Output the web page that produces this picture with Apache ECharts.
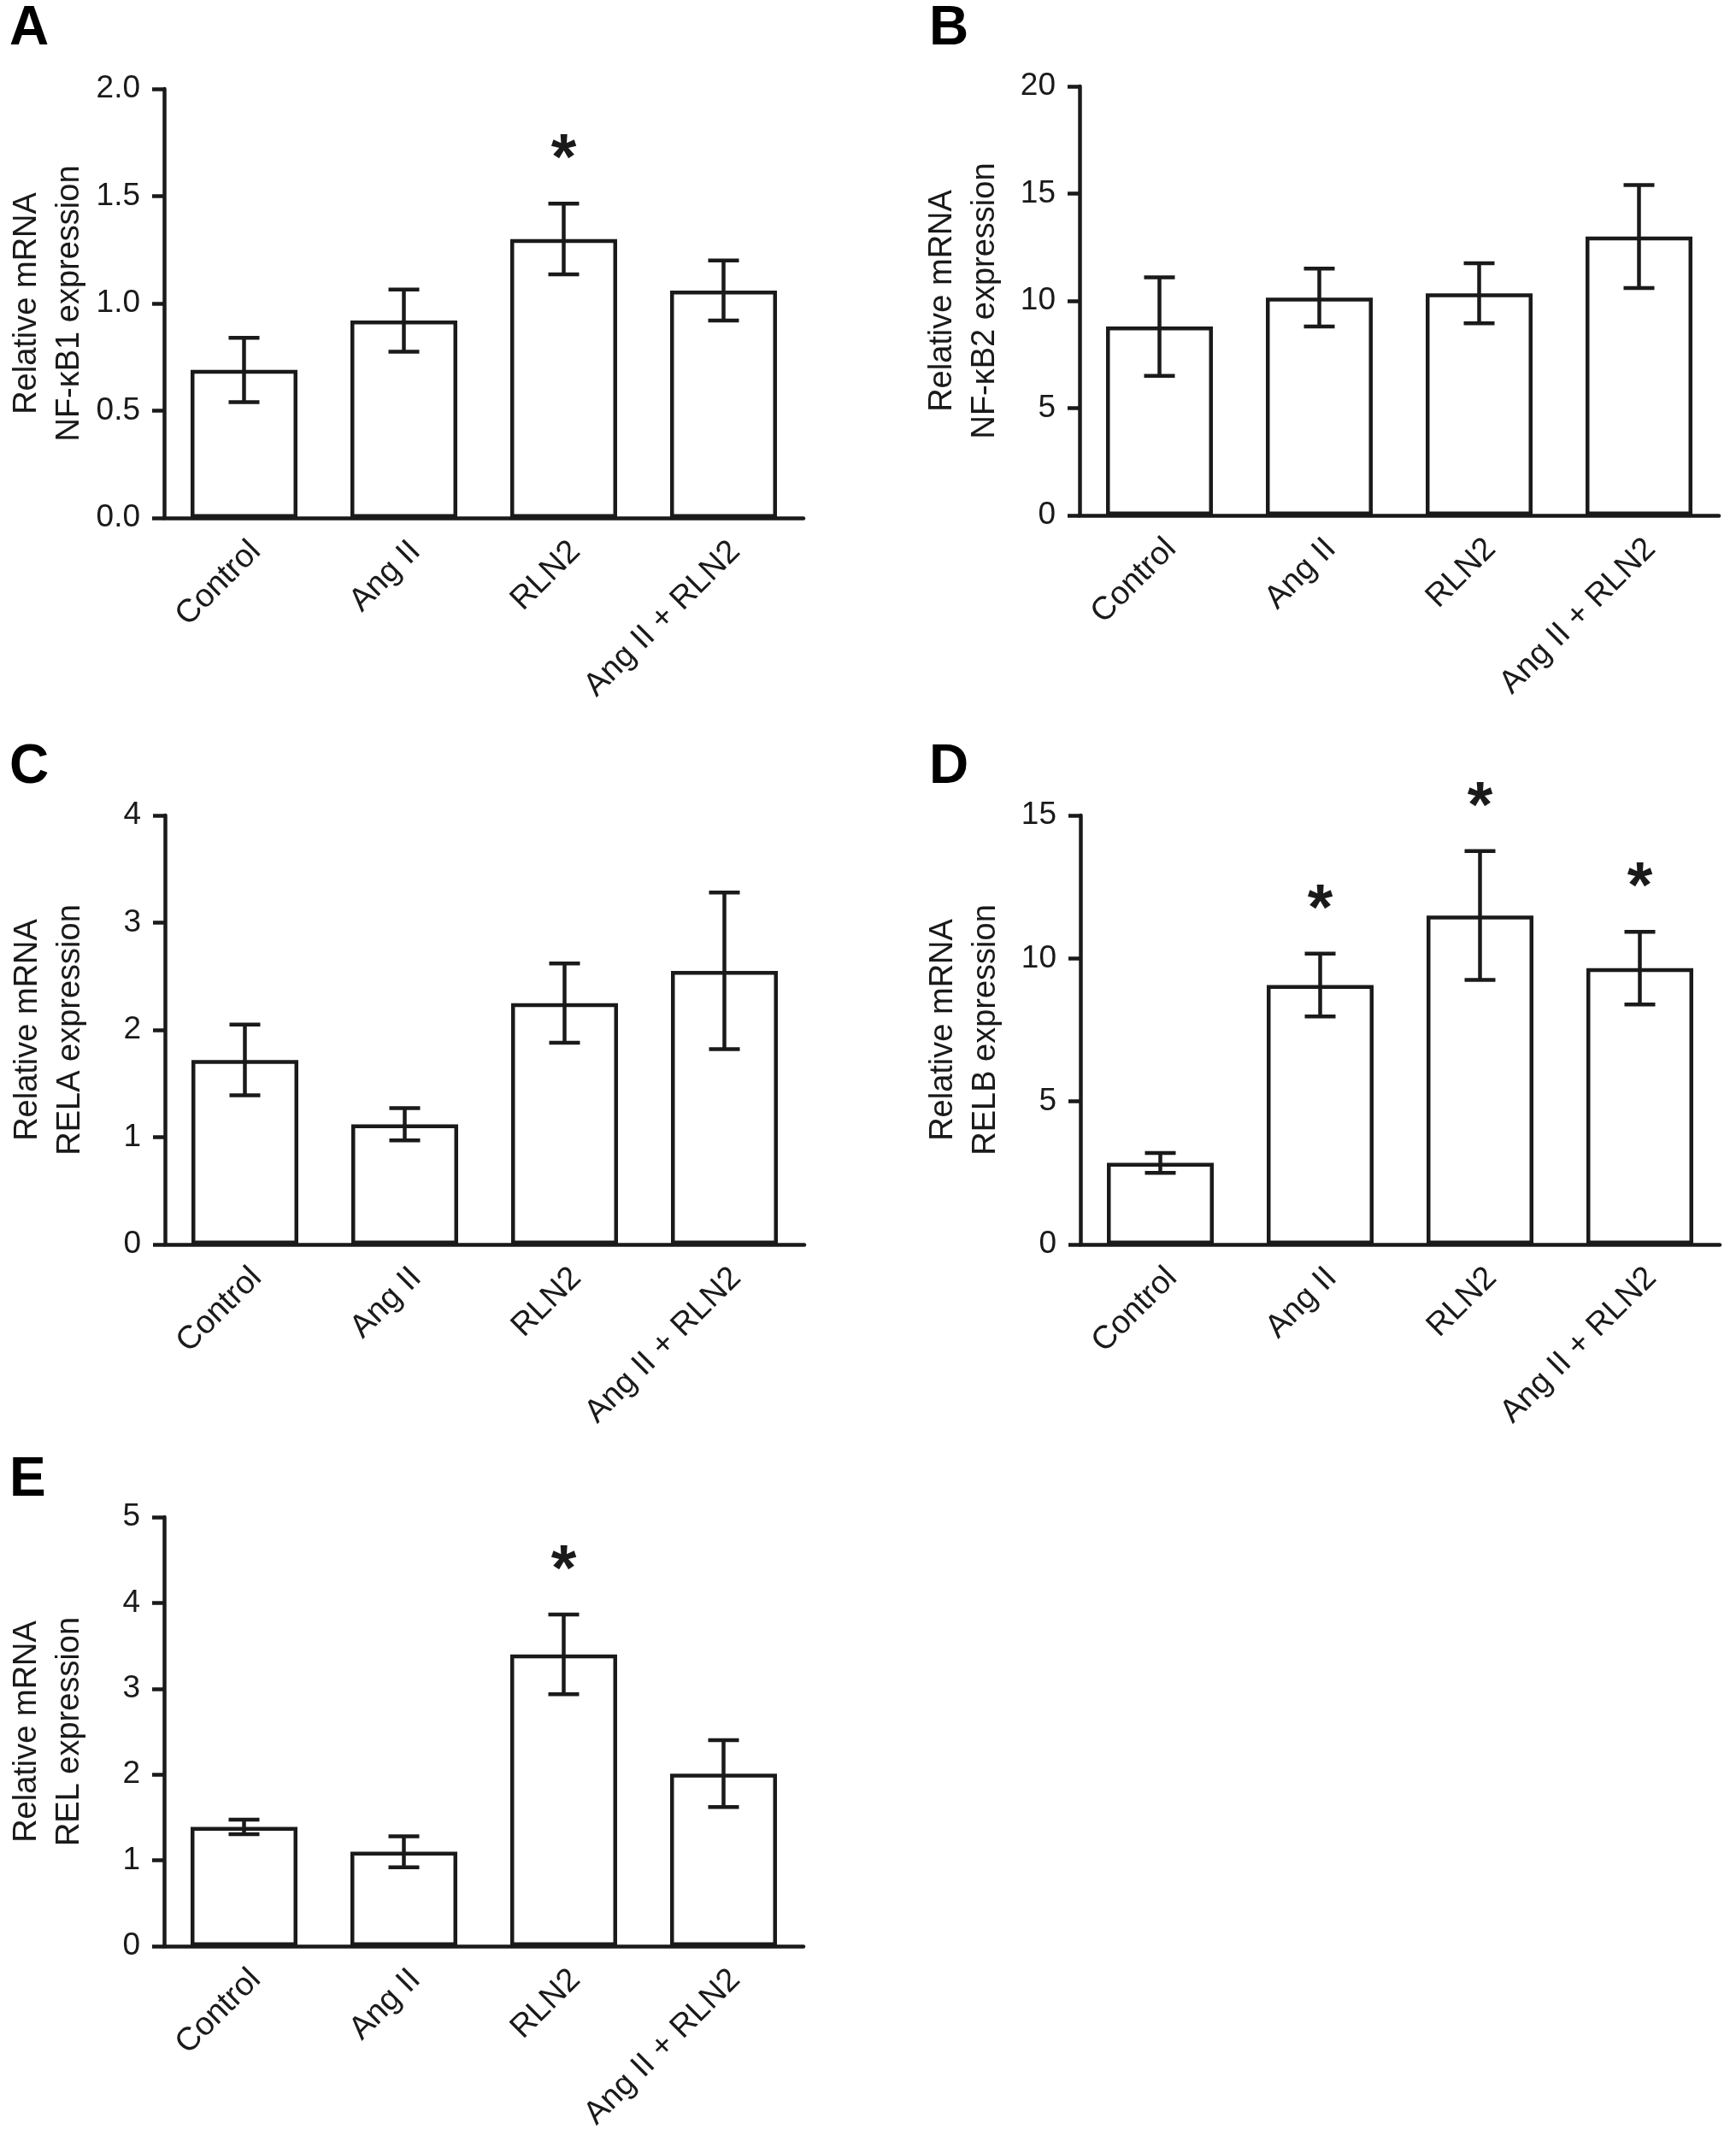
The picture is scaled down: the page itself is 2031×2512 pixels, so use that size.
<!DOCTYPE html>
<html>
<head>
<meta charset="utf-8">
<script src="https://cdn.jsdelivr.net/npm/echarts@6/dist/echarts.min.js"></script>
<style>
  html, body { margin: 0; padding: 0; background: #fff; }
  #main { width: 2031px; height: 2512px; }
</style>
</head>
<body>
<div id="main"></div>
<script>
// categories shared by every panel
var categories = ['Control', 'Ang II', 'RLN2', 'Ang II + RLN2'];

// A: NF-κB1
var meanA = [0.69, 0.92, 1.30, 1.06];
var errA = [0.15, 0.145, 0.165, 0.14];
var starA = [0, 0, 1, 0];
// B: NF-κB2
var meanB = [8.8, 10.15, 10.35, 13.0];
var errB = [2.3, 1.35, 1.4, 2.4];
var starB = [0, 0, 0, 0];
// C: RELA
var meanC = [1.72, 1.12, 2.25, 2.55];
var errC = [0.33, 0.15, 0.37, 0.73];
var starC = [0, 0, 0, 0];
// D: RELB
var meanD = [2.85, 9.07, 11.5, 9.66];
var errD = [0.35, 1.1, 2.25, 1.27];
var starD = [0, 1, 1, 1];
// E: REL
var meanE = [1.39, 1.10, 3.40, 2.01];
var errE = [0.085, 0.18, 0.465, 0.39];
var starE = [0, 0, 1, 0];

var FONT = '"Liberation Sans", Arial, sans-serif';
var INK = '#1a1a1a';

var panels = [
    { letter: 'A', gene: 'NF-κB1', mean: meanA, err: errA, star: starA, max: 2, step: 0.5, dec: 1,
      left: 192, top: 104, lx: 11, ly: 2 },
    { letter: 'B', gene: 'NF-κB2', mean: meanB, err: errB, star: starB, max: 20, step: 5, dec: 0,
      left: 1263, top: 101, lx: 1087, ly: 2 },
    { letter: 'C', gene: 'RELA', mean: meanC, err: errC, star: starC, max: 4, step: 1, dec: 0,
      left: 193, top: 954, lx: 11, ly: 866 },
    { letter: 'D', gene: 'RELB', mean: meanD, err: errD, star: starD, max: 15, step: 5, dec: 0,
      left: 1264, top: 954, lx: 1087, ly: 866 },
    { letter: 'E', gene: 'REL', mean: meanE, err: errE, star: starE, max: 5, step: 1, dec: 0,
      left: 192, top: 1775, lx: 11, ly: 1700 }
];

var chart = echarts.init(document.getElementById('main'));

var grid = [], xAxis = [], yAxis = [], series = [], graphic = [];

panels.forEach(function (p, i) {
    grid.push({ left: p.left, top: p.top, width: 748, height: 502, containLabel: false });

    xAxis.push({
        type: 'category',
        gridIndex: i,
        data: categories,
        axisLine: { lineStyle: { color: INK, width: 4.5 } },
        axisTick: { alignWithLabel: true, length: 14, lineStyle: { color: INK, width: 4.5 } },
        axisLabel: {
            rotate: 45, margin: 20, interval: 0,
            verticalAlign: 'top',
            fontFamily: FONT, fontSize: 38, color: INK
        }
    });

    yAxis.push({
        type: 'value',
        gridIndex: i,
        min: 0, max: p.max, interval: p.step,
        name: 'Relative mRNA\n' + p.gene + ' expression',
        nameLocation: 'middle',
        nameGap: 85,
        nameTextStyle: { fontFamily: FONT, fontSize: 38, color: INK, lineHeight: 50 },
        axisLine: { show: true, lineStyle: { color: INK, width: 4.5 } },
        axisTick: { show: true, length: 14, lineStyle: { color: INK, width: 4.5 } },
        splitLine: { show: false },
        axisLabel: {
            margin: 28, fontFamily: FONT, fontSize: 37, color: INK,
            formatter: function (v) { return v.toFixed(p.dec); }
        }
    });

    series.push({
        type: 'bar',
        xAxisIndex: i, yAxisIndex: i,
        data: p.mean,
        barWidth: 125,
        itemStyle: { color: '#fff', borderColor: INK, borderWidth: 4.5 },
        silent: true
    });

    // error bars + significance stars
    var errData = p.mean.map(function (m, k) { return [k, m, p.err[k], p.star[k]]; });
    series.push({
        type: 'custom',
        xAxisIndex: i, yAxisIndex: i,
        data: errData,
        z: 5,
        renderItem: function (params, api) {
            var k = api.value(0), m = api.value(1), e = api.value(2), s = api.value(3);
            var hi = api.coord([k, m + e]);
            var lo = api.coord([k, m - e]);
            var cap = 18;
            var st = { stroke: INK, lineWidth: 4.5 };
            var kids = [
                { type: 'line', shape: { x1: hi[0], y1: hi[1], x2: lo[0], y2: lo[1] }, style: st },
                { type: 'line', shape: { x1: hi[0] - cap, y1: hi[1], x2: hi[0] + cap, y2: hi[1] }, style: st },
                { type: 'line', shape: { x1: lo[0] - cap, y1: lo[1], x2: lo[0] + cap, y2: lo[1] }, style: st }
            ];
            if (s) {
                kids.push({
                    type: 'text',
                    style: {
                        text: '*', x: hi[0], y: hi[1] - 50,
                        align: 'center', verticalAlign: 'middle',
                        font: 'bold 76px ' + FONT, fill: INK
                    }
                });
            }
            return { type: 'group', children: kids };
        }
    });

    graphic.push({
        type: 'text', left: p.lx, top: p.ly,
        style: { text: p.letter, font: 'bold 64px ' + FONT, fill: '#000' }
    });
});

var option = {
    backgroundColor: '#fff',
    animation: false,
    grid: grid,
    xAxis: xAxis,
    yAxis: yAxis,
    series: series,
    graphic: graphic
};

option && chart.setOption(option);
</script>
</body>
</html>
